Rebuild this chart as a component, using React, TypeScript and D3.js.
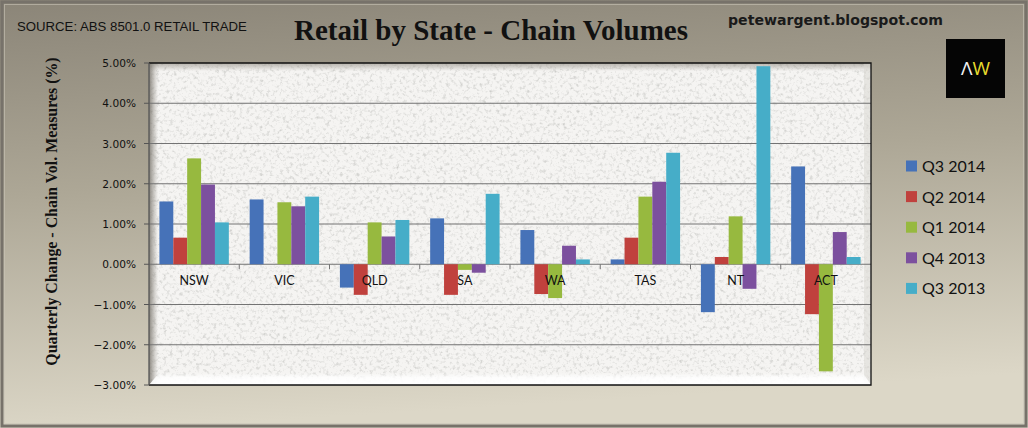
import React from 'react';
import * as d3 from 'd3';

// ABS 8501.0 quarterly change, chain volume measures (%)
const states = ['NSW', 'VIC', 'QLD', 'SA', 'WA', 'TAS', 'NT', 'ACT'];
const seriesNames = ['Q3 2014', 'Q2 2014', 'Q1 2014', 'Q4 2013', 'Q3 2013'];
const q3_2014 = [1.56, 1.61, -0.58, 1.14, 0.85, 0.12, -1.19, 2.43];
const q2_2014 = [0.66, 0.0, -0.76, -0.76, -0.74, 0.66, 0.18, -1.24];
const q1_2014 = [2.63, 1.54, 1.04, -0.14, -0.84, 1.68, 1.19, -2.66];
const q4_2013 = [1.98, 1.44, 0.69, -0.21, 0.46, 2.05, -0.61, 0.8];
const q3_2013 = [1.04, 1.68, 1.1, 1.75, 0.12, 2.77, 4.92, 0.18];
const yTicks = [-3, -2, -1, 0, 1, 2, 3, 4, 5];

const seriesValues = [q3_2014, q2_2014, q1_2014, q4_2013, q3_2013];
const COLORS = ['#4672B8', '#C0413D', '#97B93F', '#7C509E', '#46ADC8'];

const W = 1028;
const H = 428;
const plot = { left: 149, right: 871, top: 63, bottom: 385 };

export default function App() {
    const x = d3.scaleBand().domain(states).range([plot.left, plot.right]).paddingInner(0).paddingOuter(0);
    const xs = d3.scaleBand().domain(seriesNames).range([0, x.bandwidth()]).paddingInner(0).paddingOuter(0.75);
    const y = d3.scaleLinear().domain([-3, 5]).range([plot.bottom, plot.top]);

    const bars = seriesNames.flatMap((s, si) =>
        states.map((st, i) => ({ s, si, st, v: seriesValues[si][i] }))
    );
    const pw = plot.right - plot.left;
    const ph = plot.bottom - plot.top;

    return (
        <svg width={W} height={H} style={{ position: 'fixed', left: 0, top: 0 }}>
            <defs>
                <linearGradient id="bg" x1="0" y1="0" x2="0.15" y2="1">
                    <stop offset="0" stopColor="#8B8578" />
                    <stop offset="0.45" stopColor="#ADA796" />
                    <stop offset="1" stopColor="#DCD7C7" />
                </linearGradient>
                <filter id="granite" x="0" y="0" width="100%" height="100%">
                    <feTurbulence type="fractalNoise" baseFrequency="0.3" numOctaves="4" seed="7" result="n" />
                    <feColorMatrix in="n" type="matrix"
                        values="0 0 0 0 0.62  0 0 0 0 0.62  0 0 0 0 0.6  2.4 0 0 0 -1.2" />
                </filter>
                <linearGradient id="bevelTop" x1="0" y1="0" x2="0" y2="1">
                    <stop offset="0" stopColor="#9a958c" stopOpacity="0.7" />
                    <stop offset="1" stopColor="#9a958c" stopOpacity="0" />
                </linearGradient>
                <linearGradient id="bevelLeft" x1="0" y1="0" x2="1" y2="0">
                    <stop offset="0" stopColor="#77736b" stopOpacity="0.85" />
                    <stop offset="1" stopColor="#8f8a80" stopOpacity="0" />
                </linearGradient>
                <linearGradient id="bevelBottom" x1="0" y1="0" x2="0" y2="1">
                    <stop offset="0" stopColor="#ffffff" stopOpacity="0" />
                    <stop offset="0.4" stopColor="#ffffff" stopOpacity="0.85" />
                    <stop offset="1" stopColor="#ffffff" stopOpacity="0.95" />
                </linearGradient>
            </defs>

            {/* frame */}
            <rect x={0} y={0} width={W} height={H} fill="url(#bg)" />
            <rect x={2} y={2} width={W - 4} height={H - 4} fill="none" stroke="#77726a" strokeWidth={3} />
            <rect x={4.5} y={4.5} width={W - 9} height={H - 9} fill="none" stroke="#c9c4b8" strokeWidth={1} opacity={0.6} />

            {/* headings */}
            <text x={17} y={31} fontFamily="'Liberation Sans', Arial, sans-serif" fontSize={13.2} fill="#111">
                SOURCE: ABS 8501.0 RETAIL TRADE
            </text>
            <text x={491} y={40} textAnchor="middle" fontFamily="'Liberation Serif', 'Times New Roman', serif"
                fontWeight="bold" fontSize={29} fill="#111">
                Retail by State - Chain Volumes
            </text>
            <text x={728} y={25} fontFamily="'DejaVu Sans', sans-serif" fontWeight="bold" fontSize={14}
                fill="#1a1a1a" textLength={215} lengthAdjust="spacingAndGlyphs">
                petewargent.blogspot.com
            </text>
            <rect x={946} y={39} width={59} height={59} fill="#050505" />
            <text x={975.5} y={75} textAnchor="middle" fontFamily="'Open Sans', sans-serif" fontSize={19}>
                <tspan fill="#f2f2f2">Λ</tspan>
                <tspan fill="#E9DC2C">W</tspan>
            </text>

            {/* plot area */}
            <rect x={plot.left} y={plot.top} width={pw} height={ph} fill="#F5F4F2" />
            <rect x={plot.left} y={plot.top} width={pw} height={ph} fill="#fff" filter="url(#granite)" />
            <rect x={plot.left} y={plot.top} width={pw} height={8} fill="url(#bevelTop)" />
            <rect x={plot.left} y={plot.top} width={9} height={ph} fill="url(#bevelLeft)" />
            <rect x={plot.right - 7} y={plot.top} width={7} height={ph} fill="#d8d5cf" opacity={0.5} />
            <polygon
                points={`${plot.left},${plot.bottom} ${plot.left + 10},${plot.bottom - 12} ${plot.right - 8},${plot.bottom - 12} ${plot.right},${plot.bottom}`}
                fill="url(#bevelBottom)" />

            {/* gridlines */}
            {yTicks.filter(t => t !== 5 && t !== -3).map(t => (
                <line key={t} x1={plot.left} x2={plot.right} y1={y(t)} y2={y(t)} stroke="#737373" strokeWidth={1} />
            ))}

            {/* category ticks on zero line */}
            {states.slice(1).map(st => (
                <line key={st} x1={x(st)!} x2={x(st)!} y1={y(0)} y2={y(0) + 5} stroke="#737373" />
            ))}

            {/* bars */}
            {bars.map(b => (
                <rect key={b.s + b.st}
                    x={x(b.st)! + xs(b.s)!}
                    y={y(Math.max(0, b.v))}
                    width={xs.bandwidth()}
                    height={Math.abs(y(b.v) - y(0))}
                    fill={COLORS[b.si]} />
            ))}

            {/* category labels */}
            {states.map(st => (
                <text key={st} x={x(st)! + x.bandwidth() / 2} y={285} textAnchor="middle"
                    fontFamily="Lato, 'Open Sans', sans-serif" fontSize={12.5} fill="#111">
                    {st}
                </text>
            ))}

            {/* border */}
            <polyline points={`${plot.left},${plot.top} ${plot.right},${plot.top} ${plot.right},${plot.bottom} ${plot.left},${plot.bottom}`}
                fill="none" stroke="#111" strokeWidth={1.3} />
            <line x1={plot.left} x2={plot.left} y1={plot.top} y2={plot.bottom} stroke="#555" strokeWidth={1.3} />

            {/* y axis */}
            {yTicks.map(t => (
                <g key={t}>
                    <line x1={plot.left - 5} x2={plot.left} y1={y(t)} y2={y(t)} stroke="#555" />
                    <text x={136} y={y(t) + 4} textAnchor="end" fontFamily="'DejaVu Sans', Verdana, sans-serif"
                        fontSize={10.6} fill="#111">
                        {d3.format('.2f')(t) + '%'}
                    </text>
                </g>
            ))}
            <text transform={`translate(57,211.5) rotate(-90)`} textAnchor="middle"
                fontFamily="'Liberation Serif', 'Times New Roman', serif" fontWeight="bold" fontSize={15.9} fill="#111">
                Quarterly Change - Chain Vol. Measures (%)
            </text>

            {/* legend */}
            {seriesNames.map((s, i) => (
                <g key={s} transform={`translate(906,${166 + i * 30.6})`}>
                    <rect x={0} y={-5.5} width={11} height={11} fill={COLORS[i]} />
                    <text x={16} y={6} fontFamily="Lato, sans-serif" fontSize={16} fill="#111">{s}</text>
                </g>
            ))}
        </svg>
    );
}
